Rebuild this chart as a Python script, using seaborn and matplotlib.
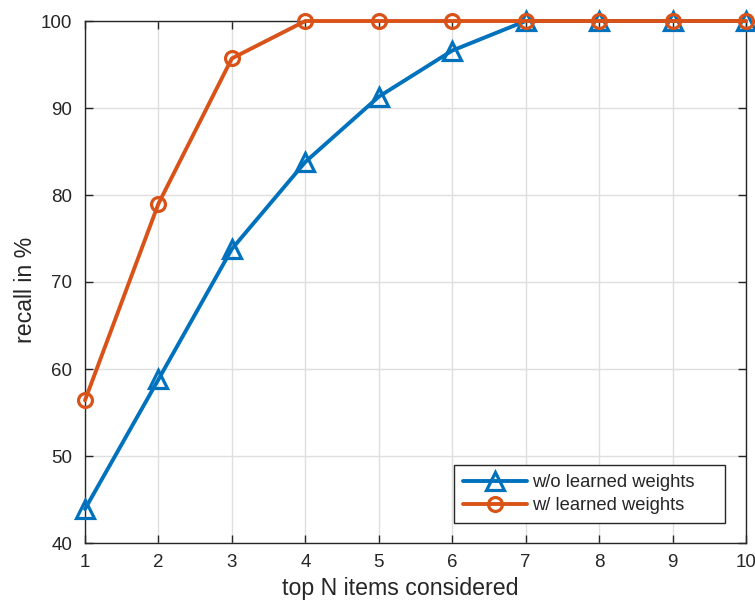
import matplotlib
matplotlib.use("Agg")
import matplotlib.pyplot as plt
import seaborn as sns
import pandas as pd

top_n = [1, 2, 3, 4, 5, 6, 7, 8, 9, 10]
recall_wo = [43.9, 58.8, 73.8, 83.8, 91.3, 96.6, 100, 100, 100, 100]
recall_w = [56.4, 79.0, 95.7, 100, 100, 100, 100, 100, 100, 100]
labels = ["w/o learned weights", "w/ learned weights"]

sns.set_theme(style="white")
plt.rcParams['font.family'] = ['Liberation Sans', 'DejaVu Sans']

fig = plt.figure(figsize=(7.55, 6.04), dpi=100)
ax = fig.add_axes([85/755, 61/604, 661/755, 522/604])

df_wo = pd.DataFrame({"N": top_n, "recall": recall_wo})
df_w = pd.DataFrame({"N": top_n, "recall": recall_w})

sns.lineplot(data=df_wo, x="N", y="recall", ax=ax, color="#0072BD", lw=2.8,
             marker="^", markersize=12.5, markerfacecolor="none",
             markeredgecolor="#0072BD", markeredgewidth=2.3, label=labels[0], zorder=3,
             clip_on=False)
sns.lineplot(data=df_w, x="N", y="recall", ax=ax, color="#D95319", lw=2.8,
             marker="o", markersize=10, markerfacecolor="none",
             markeredgecolor="#D95319", markeredgewidth=2.3, label=labels[1], zorder=3,
             clip_on=False)

ax.set_xlim(1, 10)
ax.set_ylim(40, 100)
ax.set_xticks(range(1, 11))
ax.set_yticks(range(40, 101, 10))
ax.grid(True, color="#dfdfdf", lw=1.0)
ax.set_axisbelow(True)
for s in ax.spines.values():
    s.set_color("#262626")
    s.set_linewidth(1.0)
    s.set_visible(True)
ax.tick_params(direction="in", length=6, width=1.0, colors="#262626",
               labelsize=13.5, top=True, right=True, bottom=True, left=True,
               labeltop=False, labelright=False)
ax.tick_params(axis="x", pad=8)
ax.tick_params(axis="y", pad=9)
ax.set_xlabel("top N items considered", fontsize=16.7, color="#262626")
ax.set_ylabel("recall in %", fontsize=16.7, color="#262626")
ax.xaxis.set_label_coords(0.477, -0.066)
ax.yaxis.set_label_coords(-0.073, 0.485)

leg = ax.legend(loc="lower right", bbox_to_anchor=(0.558, 0.038, 0.410, 0.2),
                mode="expand", borderaxespad=0,
                fontsize=13.2, frameon=True, fancybox=False, framealpha=1,
                edgecolor="#262626", handlelength=3.5, borderpad=0.5,
                labelspacing=0.3, handletextpad=0.25)
leg.get_frame().set_linewidth(1.0)

fig.savefig("out.png", dpi=100)
